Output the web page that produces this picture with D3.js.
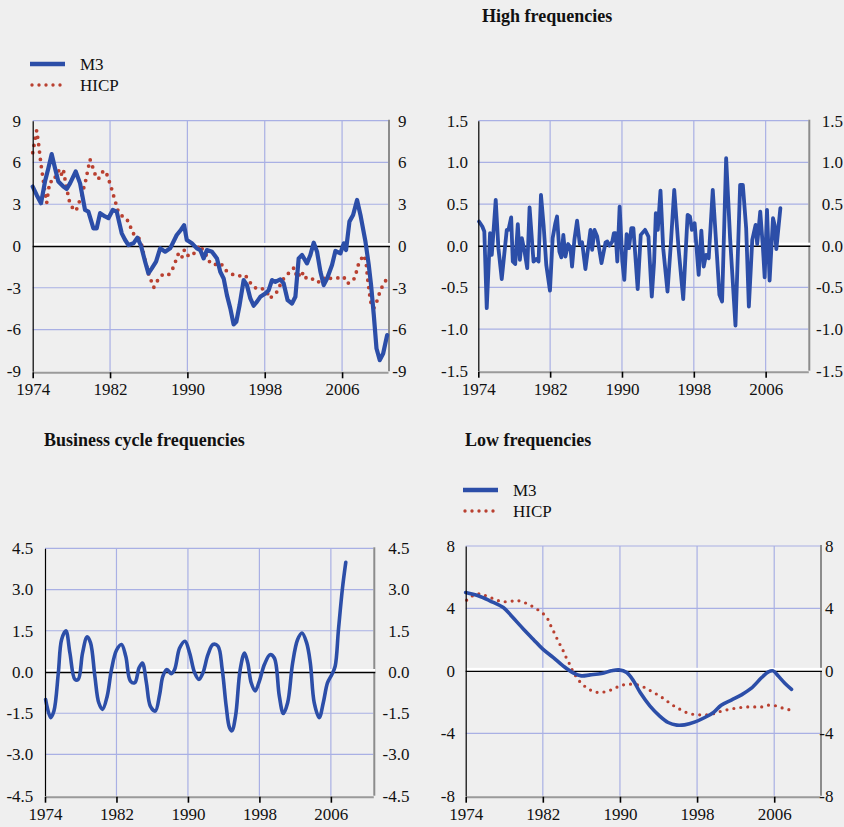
<!DOCTYPE html>
<html>
<head>
<meta charset="utf-8">
<script src="https://cdn.jsdelivr.net/npm/d3@7"></script>
<style>
body { margin: 0; background: #efefef; }
svg text { font-family: "Liberation Serif", "Times New Roman", serif; fill: #111; }
</style>
</head>
<body>
<div id="chart"></div>
<script>
var width = 844;
var height = 827;

// x axis
var yearTicks = [1974, 1982, 1990, 1998, 2006];
var yearDomain = [1974, 2010.75];

// panel 1: raw series
var rawM3Year = [1974.0, 1974.41, 1974.86, 1975.27, 1975.62, 1975.96, 1976.31, 1976.65, 1977.17, 1977.52, 1977.86, 1978.45, 1978.9,
  1979.41, 1979.76, 1980.28, 1980.62, 1980.97, 1981.48, 1981.83, 1982.28, 1982.69, 1983.21, 1983.56, 1983.9, 1984.42, 1984.83,
  1985.21, 1985.63, 1985.97, 1986.32, 1986.76, 1987.18, 1987.7, 1988.22, 1988.9, 1989.32, 1989.66, 1989.94, 1990.46, 1990.98,
  1991.33, 1991.68, 1992.02, 1992.54, 1993.06, 1993.4, 1993.75, 1994.09, 1994.44, 1994.78, 1995.06, 1995.4, 1995.82, 1996.16,
  1996.51, 1996.85, 1997.2, 1997.54, 1998.06, 1998.41, 1998.75, 1999.1, 1999.61, 1999.96, 2000.37, 2000.82, 2001.17, 2001.51,
  2001.86, 2002.37, 2002.72, 2003.07, 2003.41, 2003.76, 2004.1, 2004.45, 2004.96, 2005.31, 2005.83, 2006.17, 2006.41, 2006.76,
  2007.14, 2007.55, 2007.9, 2008.42, 2008.76, 2009.0, 2009.28, 2009.56, 2009.9, 2010.25, 2010.66];
var rawM3 = [4.27, 3.67, 3.07, 4.63, 5.59, 6.6, 5.59, 4.63, 4.27, 4.1, 4.5, 5.35, 4.5,
  2.59, 2.47, 1.27, 1.27, 2.36, 2.12, 2.0, 2.59, 2.47, 0.91, 0.43, 0.07, 0.19, 0.6,
  0.0, -1.13, -1.97, -1.61, -1.13, -0.17, -0.41, -0.17, 0.79, 1.15, 1.5, 0.43, 0.19, -0.17,
  -0.29, -0.89, -0.29, -0.41, -0.89, -1.85, -2.33, -3.53, -4.48, -5.63, -5.44, -4.24, -2.45, -2.81,
  -3.77, -4.29, -4.0, -3.65, -3.41, -3.17, -2.45, -2.57, -2.4, -2.69, -3.89, -4.13, -3.65, -0.89,
  -0.65, -1.25, -0.65, 0.24, -0.41, -1.85, -2.81, -2.33, -1.37, -0.36, -0.53, 0.19, -0.29, 1.75,
  2.23, 3.31, 2.23, 0.31, -1.37, -2.81, -4.96, -7.36, -8.2, -7.72, -6.4];

var rawHicpYear = [1974.0, 1974.41, 1974.58, 1974.85, 1975.2, 1975.45, 1975.65, 1975.79, 1976.2, 1976.41, 1976.69, 1976.9, 1977.17,
  1977.45, 1977.79, 1978.14, 1978.48, 1978.76, 1979.07, 1979.48, 1979.93, 1980.21, 1980.48, 1980.79, 1981.17, 1981.55, 1981.8,
  1982.07, 1982.31, 1982.55, 1982.76, 1983.07, 1983.69, 1984.07, 1984.35, 1984.87, 1985.21, 1985.56, 1985.97, 1986.52, 1986.94,
  1987.45, 1988.04, 1988.49, 1988.8, 1989.08, 1989.42, 1989.66, 1990.01, 1990.35, 1990.7, 1990.97, 1991.33, 1991.68, 1992.08,
  1992.36, 1992.7, 1993.22, 1993.47, 1993.92, 1994.6, 1995.19, 1995.99, 1996.43, 1996.92, 1997.27, 1997.61, 1997.96, 1998.23,
  1998.51, 1999.2, 1999.54, 1999.96, 2000.37, 2000.72, 2001.06, 2001.34, 2001.86, 2002.03, 2002.37, 2002.82, 2003.17, 2003.58,
  2003.93, 2004.27, 2004.86, 2005.31, 2005.83, 2006.17, 2006.52, 2007.03, 2007.38, 2007.55, 2007.79, 2008.24, 2008.48, 2008.65,
  2008.86, 2009.0, 2009.28, 2009.62, 2009.86, 2010.21, 2010.59];
var rawHicp = [6.7, 8.3, 7.5, 5.9, 4.2, 3.1, 4.1, 4.63, 4.63, 5.15, 5.4, 5.03, 5.5,
  4.34, 3.24, 2.71, 2.52, 3.07, 3.62, 4.7, 6.22, 5.66, 5.1, 4.8, 5.3, 5.4, 4.87,
  4.34, 3.74, 3.19, 2.64, 2.23, 1.99, 1.46, 0.91, 0.72, 0.26, -0.84, -1.97, -2.98, -2.45,
  -2.04, -2.09, -1.61, -1.06, -0.53, -0.84, -0.29, -0.72, -0.46, -0.53, -0.24, 0.07, -0.41, -0.77,
  -1.25, -1.32, -1.32, -1.25, -1.73, -2.02, -2.16, -2.09, -2.57, -2.98, -3.05, -3.0, -3.17, -3.29,
  -3.77, -3.36, -2.88, -2.33, -2.04, -1.73, -1.56, -2.28, -1.8, -2.33, -2.26, -2.26, -2.57, -2.57,
  -2.57, -2.21, -2.33, -2.33, -2.26, -2.21, -2.69, -2.57, -2.21, -1.61, -1.13, -0.65, -1.13, -2.4,
  -3.53, -4.13, -4.48, -3.93, -3.41, -2.81, -2.4];

// panel 2: high frequencies
var highM3Year = [1974.08, 1974.45, 1974.67, 1974.94, 1975.31, 1975.5, 1975.68, 1975.94, 1976.24, 1976.61, 1977.17, 1977.36, 1977.66,
  1977.84, 1978.11, 1978.4, 1978.63, 1978.85, 1979.15, 1979.45, 1979.71, 1980.15, 1980.45, 1980.71, 1980.98, 1981.27, 1981.57,
  1981.98, 1982.28, 1982.58, 1982.77, 1983.03, 1983.25, 1983.47, 1983.7, 1984.0, 1984.26, 1984.44, 1984.7, 1985.0, 1985.3,
  1985.56, 1985.93, 1986.49, 1986.68, 1986.94, 1987.24, 1987.72, 1988.17, 1988.36, 1988.62, 1988.92, 1989.1, 1989.29, 1989.48,
  1989.74, 1990.04, 1990.26, 1990.52, 1990.78, 1991.04, 1991.27, 1991.75, 1992.09, 1992.57, 1992.95, 1993.32, 1993.58, 1993.77,
  1993.99, 1994.29, 1994.59, 1995.07, 1995.41, 1995.82, 1996.3, 1996.82, 1997.31, 1997.57, 1997.79, 1998.09, 1998.54, 1998.84,
  1999.1, 1999.36, 1999.66, 2000.11, 2000.55, 2000.85, 2001.15, 2001.6, 2002.04, 2002.64, 2003.16, 2003.46, 2003.83, 2004.13,
  2004.51, 2004.88, 2005.06, 2005.4, 2005.7, 2005.89, 2006.15, 2006.44, 2006.82, 2007.0, 2007.19, 2007.64];
var highM3 = [0.29, 0.23, 0.17, -0.75, 0.15, -0.11, 0.15, 0.55, -0.03, -0.4, 0.19, 0.19, 0.34,
  -0.19, -0.22, 0.26, -0.17, 0.09, -0.07, -0.27, 0.46, -0.19, -0.16, -0.19, 0.61, 0.25, -0.23,
  -0.54, 0.09, 0.27, 0.35, -0.07, -0.14, 0.13, -0.13, 0.02, -0.02, -0.25, 0.07, 0.3, 0.02,
  0.04, -0.28, 0.19, -0.05, 0.19, 0.11, -0.21, 0.04, 0.05, 0.0, 0.05, 0.15, 0.15, -0.19,
  0.47, -0.19, -0.41, 0.14, -0.03, 0.21, 0.21, -0.52, 0.13, 0.19, 0.11, -0.61, -0.19, 0.39,
  0.19, 0.66, -0.03, -0.55, -0.03, 0.67, -0.03, -0.64, 0.37, 0.35, 0.19, 0.27, -0.35, 0.18,
  -0.25, -0.11, -0.15, 0.67, -0.07, -0.59, -0.67, 1.05, 0.09, -0.96, 0.73, 0.73, 0.21, -0.73,
  0.07, 0.25, 0.02, 0.41, -0.03, -0.38, 0.43, -0.42, 0.33, 0.25, -0.04, 0.45];

// panel 3: business cycle frequencies
var cycleM3Year = [1974.07, 1974.63, 1975.0, 1975.49, 1975.86, 1976.34, 1976.79, 1977.35, 1977.72, 1978.2, 1978.72, 1979.1, 1979.58,
  1980.02, 1980.44, 1980.96, 1981.44, 1982.0, 1982.56, 1983.04, 1983.56, 1984.05, 1984.53, 1984.9, 1985.35, 1985.79, 1986.35,
  1986.83, 1987.2, 1987.65, 1988.14, 1988.51, 1989.07, 1989.67, 1990.19, 1990.75, 1991.23, 1991.68, 1992.24, 1992.8, 1993.36,
  1993.84, 1994.28, 1994.65, 1994.92, 1995.33, 1995.85, 1996.33, 1996.7, 1997.08, 1997.52, 1998.0, 1998.56, 1999.19, 1999.67,
  2000.23, 2000.68, 2001.16, 2001.72, 2002.28, 2002.77, 2003.29, 2003.7, 2004.14, 2004.7, 2005.15, 2005.63, 2006.11, 2006.48,
  2006.85, 2007.3, 2007.67];
var cycleM3 = [-1.0, -1.66, -1.42, -0.04, 1.18, 1.5, 0.69, -0.27, -0.27, 0.69, 1.28, 1.06, -0.15,
  -1.12, -1.36, -0.88, 0.09, 0.79, 1.0, 0.57, -0.33, -0.39, 0.15, 0.33, -0.39, -1.24, -1.42,
  -0.82, -0.15, 0.09, -0.06, 0.09, 0.87, 1.12, 0.69, -0.03, -0.27, -0.03, 0.63, 1.0, 0.94,
  0.09, -1.24, -2.02, -2.14, -1.6, 0.09, 0.69, 0.33, -0.39, -0.69, -0.33, 0.27, 0.63, 0.51,
  -0.88, -1.51, -1.12, 0.33, 1.18, 1.42, 1.06, 0.33, -1.12, -1.66, -1.12, -0.39, -0.09, 0.21,
  1.54, 3.05, 3.99];

// panel 4: low frequencies
var lowM3Year = [1974.0, 1975.3, 1976.5, 1977.9, 1978.8, 1980.0, 1981.0, 1982.0, 1983.1, 1984.1, 1985.2, 1986.0, 1986.9,
  1988.1, 1989.1, 1989.9, 1990.7, 1991.4, 1992.1, 1993.1, 1994.1, 1995.0, 1995.9, 1996.7, 1997.8, 1998.8, 1999.7,
  2000.5, 2001.6, 2002.6, 2003.6, 2004.7, 2005.4, 2005.9, 2006.4, 2007.1, 2007.8];
var lowM3 = [5.02, 4.81, 4.49, 4.06, 3.48, 2.67, 2.03, 1.39, 0.85, 0.32, -0.15, -0.32, -0.26,
  -0.17, 0.0, 0.06, -0.11, -0.64, -1.39, -2.24, -2.88, -3.31, -3.48, -3.46, -3.27, -2.99, -2.67,
  -2.2, -1.86, -1.54, -1.13, -0.43, -0.06, 0.0, -0.32, -0.79, -1.18];
var lowHicpYear = [1974.1, 1974.8, 1975.5, 1976.3, 1977.0, 1977.7, 1978.6, 1979.3, 1980.1, 1980.8, 1981.5, 1982.1, 1982.6,
  1982.9, 1983.3, 1983.6, 1984.0, 1984.3, 1984.7, 1985.0, 1985.4, 1985.9, 1986.5, 1987.2, 1987.9, 1988.8, 1989.5,
  1990.3, 1991.0, 1991.8, 1992.6, 1993.3, 1994.0, 1994.7, 1995.3, 1996.0, 1996.7, 1997.5, 1998.3, 1999.0, 1999.8,
  2000.6, 2001.4, 2002.2, 2003.1, 2003.8, 2004.6, 2005.4, 2006.2, 2006.9, 2007.7];
var lowHicp = [4.53, 4.85, 4.96, 4.76, 4.59, 4.42, 4.44, 4.53, 4.38, 4.17, 3.91, 3.63, 3.25,
  2.78, 2.31, 1.88, 1.45, 1.0, 0.53, 0.11, -0.32, -0.75, -1.07, -1.32, -1.41, -1.3, -1.09,
  -0.9, -0.85, -0.9, -1.07, -1.32, -1.56, -1.84, -2.14, -2.39, -2.63, -2.78, -2.82, -2.82, -2.74,
  -2.56, -2.46, -2.37, -2.31, -2.31, -2.33, -2.2, -2.24, -2.39, -2.52];

var blue = "#2c4ea8";
var red = "#b94030";

var svg = d3.select("#chart").append("svg")
  .attr("width", width)
  .attr("height", height)

svg.append("rect")
  .attr("width", width)
  .attr("height", height)
  .attr("fill", "#efefef")

function zip(xs, ys) {
  return xs.map(function(d, i) { return [d, ys[i]] })
}

function minusFix(f) {
  return function(d) { return f(d).replace("\u2212", "-") }
}

function drawPanel(p) {
  var x = d3.scaleLinear().domain(yearDomain).range([p.left, p.right]);
  var y = d3.scaleLinear().domain(p.yDomain).range([p.bottom, p.top]);
  var g = svg.append("g");

  // grid
  g.selectAll(".hgrid")
    .data(p.yTicks.filter(function(d) { return d > p.yDomain[0] && d != 0 }))
    .enter().append("line")
    .attr("x1", p.left).attr("x2", p.right)
    .attr("y1", function(d) { return y(d) }).attr("y2", function(d) { return y(d) })
    .attr("stroke", "#a9b0e4").attr("stroke-width", 1.2)
  g.selectAll(".vgrid")
    .data(yearTicks.slice(1))
    .enter().append("line")
    .attr("x1", function(d) { return x(d) }).attr("x2", function(d) { return x(d) })
    .attr("y1", p.top).attr("y2", p.bottom)
    .attr("stroke", "#a9b0e4").attr("stroke-width", 1.2)

  // right frame edge
  g.append("line")
    .attr("x1", p.right + 1).attr("x2", p.right + 1)
    .attr("y1", p.top - 1).attr("y2", p.bottom)
    .attr("stroke", "#8c8c8c").attr("stroke-width", 2)

  // zero line
  g.append("rect")
    .attr("x", p.left).attr("y", y(0) - 3)
    .attr("width", p.right - p.left + 2).attr("height", 3)
    .attr("fill", "#ffffff")
  g.append("line")
    .attr("x1", p.left).attr("x2", p.right + 2)
    .attr("y1", y(0) + 0.5).attr("y2", y(0) + 0.5)
    .attr("stroke", "#000").attr("stroke-width", 1.4)

  // series
  p.series.forEach(function(s) {
    var line = d3.line()
      .x(function(d) { return x(d[0]) })
      .y(function(d) { return y(d[1]) })
      .curve(s.curve || d3.curveLinear);
    var path = g.append("path")
      .attr("d", line(zip(s.years, s.values)))
      .attr("fill", "none")
      .attr("stroke-linejoin", "round")
    if (s.dotted) {
      path.attr("stroke", red).attr("stroke-width", s.width || 3.6)
        .attr("stroke-linecap", "round").attr("stroke-dasharray", "0," + (s.gap || 7))
    } else {
      path.attr("stroke", blue).attr("stroke-width", s.width || 4)
        .attr("stroke-linecap", "round")
    }
  })

  // bottom axis
  var xAxis = g.append("g")
    .attr("transform", "translate(0," + (p.bottom + 1) + ")")
    .call(d3.axisBottom(x).tickValues(yearTicks).tickFormat(d3.format("d"))
      .tickSize(6).tickSizeOuter(0).tickPadding(5))
  xAxis.select(".domain").attr("stroke", "#9a9a9a").attr("stroke-width", 2)
  xAxis.selectAll(".tick line").attr("stroke", "#000").attr("stroke-width", 1.6)
  xAxis.selectAll("text").attr("font-size", 17).attr("fill", "#111")
    .style("font-family", "'Liberation Serif', serif")

  // left axis
  var yLeft = g.append("g")
    .attr("transform", "translate(" + p.left + ",0)")
    .call(d3.axisLeft(y).tickValues(p.yTicks).tickFormat(minusFix(d3.format(p.fmt)))
      .tickSize(0).tickSizeOuter(0).tickPadding(p.left - p.leftLabelX))
  yLeft.select(".domain").attr("stroke", "#000").attr("stroke-width", 1.2)
  yLeft.selectAll("text").attr("font-size", 17).attr("fill", "#111")
    .style("font-family", "'Liberation Serif', serif")

  // right axis labels (digits aligned, minus sign hangs left)
  var yRight = g.append("g")
    .attr("transform", "translate(" + p.right + ",0)")
    .call(d3.axisRight(y).tickValues(p.yTicks).tickFormat(minusFix(d3.format(p.fmt)))
      .tickSize(0).tickSizeOuter(0).tickPadding(p.rightLabelX - p.right))
  yRight.select(".domain").remove()
  yRight.selectAll("text").attr("font-size", 17).attr("fill", "#111")
    .style("font-family", "'Liberation Serif', serif")
    .attr("x", function(d) { return (p.rightLabelX - p.right) - (d < 0 ? 5.7 : 0) })
}

function legend(lx, ly) {
  svg.append("line")
    .attr("x1", lx).attr("x2", lx + 35).attr("y1", ly).attr("y2", ly)
    .attr("stroke", blue).attr("stroke-width", 4.5)
  svg.append("text").attr("x", lx + 50).attr("y", ly + 6)
    .attr("font-size", 17).text("M3")
  svg.append("line")
    .attr("x1", lx + 2).attr("x2", lx + 35).attr("y1", ly + 21).attr("y2", ly + 21)
    .attr("stroke", red).attr("stroke-width", 3.4)
    .attr("stroke-linecap", "round").attr("stroke-dasharray", "0,7")
  svg.append("text").attr("x", lx + 50).attr("y", ly + 27)
    .attr("font-size", 17).text("HICP")
}

function title(tx, ty, t) {
  svg.append("text").attr("x", tx).attr("y", ty)
    .attr("font-size", 18).attr("font-weight", "bold").text(t)
}

drawPanel({
  left: 32.7, right: 388, top: 120.7, bottom: 371.3,
  yDomain: [-9, 9], yTicks: [-9, -6, -3, 0, 3, 6, 9], fmt: "d",
  leftLabelX: 21, rightLabelX: 398,
  series: [
    { years: rawHicpYear, values: rawHicp, dotted: true, width: 3.8, gap: 7.4 },
    { years: rawM3Year, values: rawM3, width: 4.2 }
  ]
})

drawPanel({
  left: 478.3, right: 808.3, top: 120.7, bottom: 370.7,
  yDomain: [-1.5, 1.5], yTicks: [-1.5, -1.0, -0.5, 0, 0.5, 1.0, 1.5], fmt: ".1f",
  leftLabelX: 468, rightLabelX: 821.7,
  series: [
    { years: highM3Year, values: highM3, width: 3.8 }
  ]
})

drawPanel({
  left: 45, right: 373.3, top: 548.3, bottom: 795.7,
  yDomain: [-4.5, 4.5], yTicks: [-4.5, -3.0, -1.5, 0, 1.5, 3.0, 4.5], fmt: ".1f",
  leftLabelX: 33.3, rightLabelX: 388.3,
  series: [
    { years: cycleM3Year, values: cycleM3, width: 3.6, curve: d3.curveCatmullRom }
  ]
})

drawPanel({
  left: 465.7, right: 820, top: 546, bottom: 795.7,
  yDomain: [-8, 8], yTicks: [-8, -4, 0, 4, 8], fmt: "d",
  leftLabelX: 455, rightLabelX: 825,
  series: [
    { years: lowHicpYear, values: lowHicp, dotted: true, width: 3.2, gap: 7 },
    { years: lowM3Year, values: lowM3, width: 3.6, curve: d3.curveCatmullRom }
  ]
})

legend(30, 64)
legend(463, 490)

title(482, 22, "High frequencies")
title(44, 446, "Business cycle frequencies")
title(465, 446, "Low frequencies")
</script>
</body>
</html>
